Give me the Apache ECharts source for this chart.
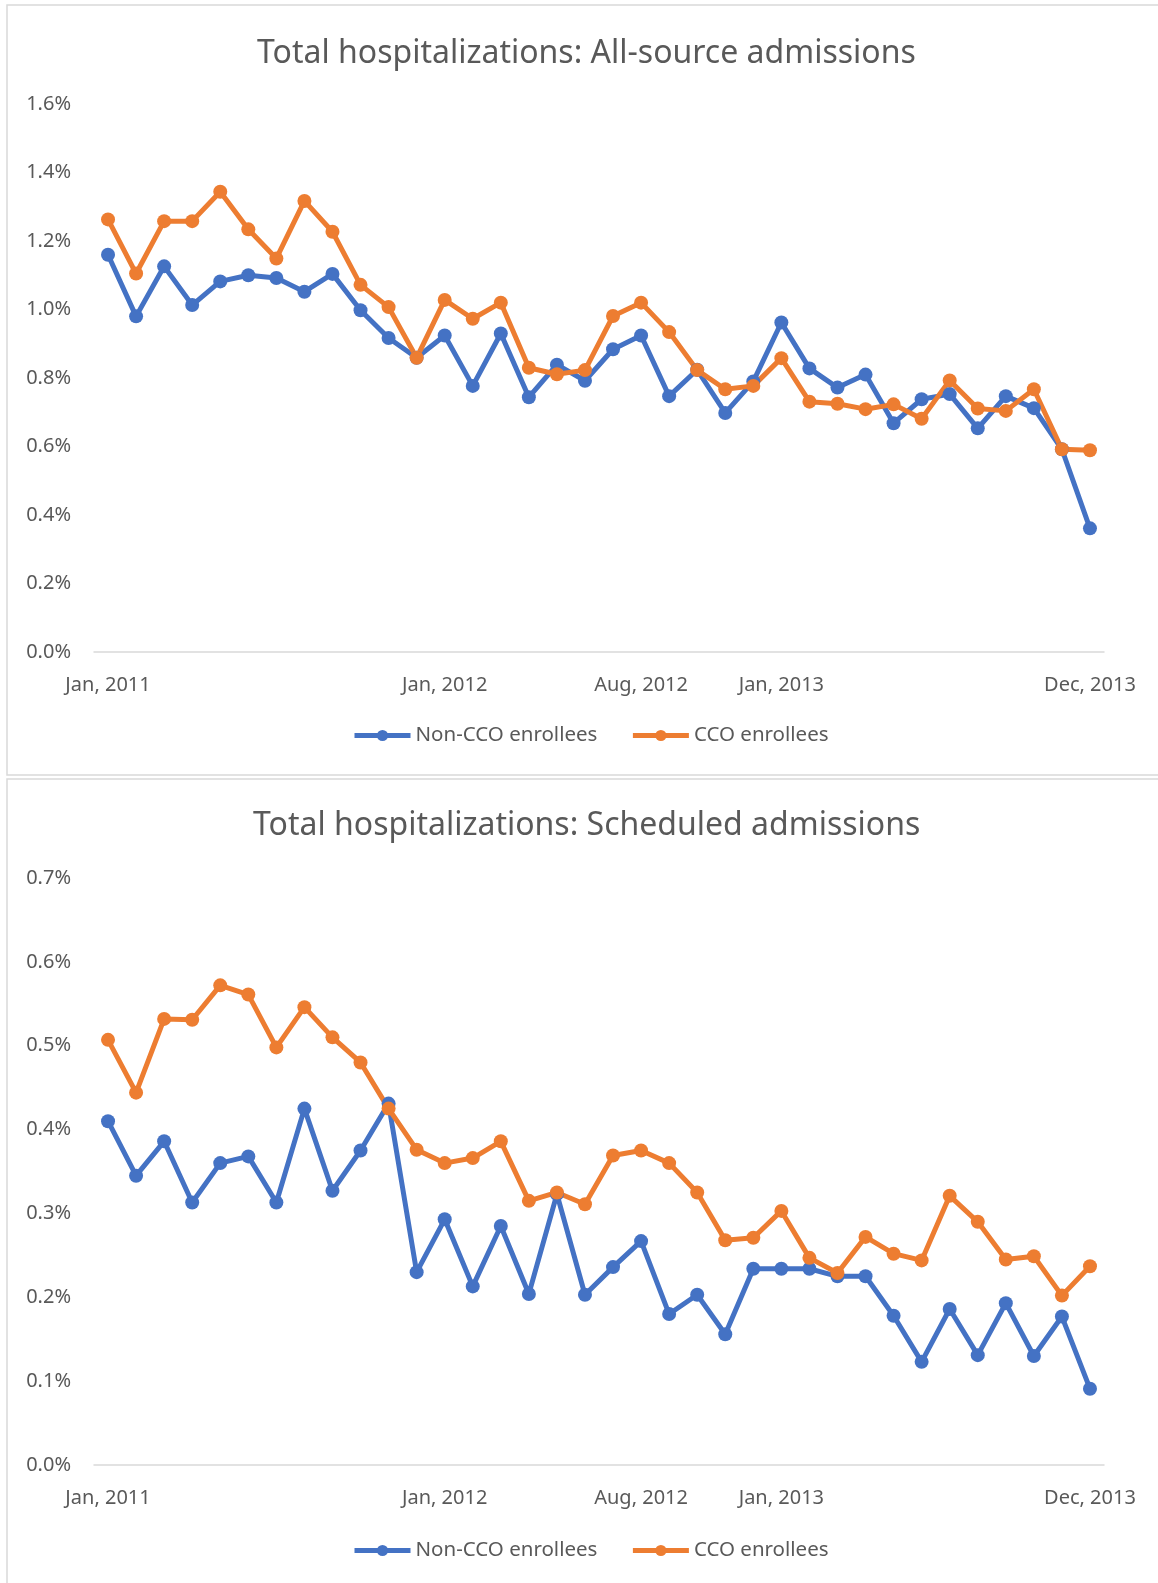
<!DOCTYPE html>
<html>
<head>
<meta charset="utf-8">
<title>Total hospitalizations</title>
<script src="https://cdn.jsdelivr.net/npm/echarts@6/dist/echarts.min.js"></script>
<style>
  html, body { margin: 0; padding: 0; background: #ffffff; }
  #main { width: 1158px; height: 1583px; }
</style>
</head>
<body>
<div id="main"></div>
<script>
// months Jan 2011 .. Dec 2013
const monthNames = ['Jan', 'Feb', 'Mar', 'Apr', 'May', 'Jun', 'Jul', 'Aug', 'Sep', 'Oct', 'Nov', 'Dec'];
const years = [2011, 2012, 2013];
const months = [];
years.forEach(y => monthNames.forEach(m => months.push(m + ', ' + y)));

// only these category labels are printed on the x axis
const shownLabels = ['Jan, 2011', 'Jan, 2012', 'Aug, 2012', 'Jan, 2013', 'Dec, 2013'];

const seriesNames = ['Non-CCO enrollees', 'CCO enrollees'];

// All-source admissions (%)
const nonCcoAll = [1.160, 0.980, 1.126, 1.013, 1.082, 1.100, 1.092, 1.052, 1.104, 0.998, 0.917, 0.859,
  0.924, 0.777, 0.930, 0.744, 0.839, 0.792, 0.884, 0.924, 0.747, 0.824, 0.698, 0.790,
  0.962, 0.828, 0.772, 0.810, 0.668, 0.738, 0.753, 0.653, 0.747, 0.712, 0.592, 0.361];
const ccoAll = [1.263, 1.105, 1.258, 1.258, 1.344, 1.234, 1.149, 1.317, 1.227, 1.072, 1.007, 0.859,
  1.028, 0.973, 1.020, 0.830, 0.811, 0.823, 0.981, 1.020, 0.934, 0.823, 0.767, 0.777,
  0.858, 0.731, 0.725, 0.709, 0.723, 0.681, 0.793, 0.711, 0.704, 0.767, 0.592, 0.589];

// Scheduled admissions (%)
const nonCcoSched = [0.410, 0.345, 0.386, 0.313, 0.360, 0.368, 0.313, 0.425, 0.327, 0.375, 0.431, 0.230,
  0.293, 0.213, 0.285, 0.204, 0.323, 0.203, 0.236, 0.267, 0.180, 0.203, 0.156, 0.234,
  0.234, 0.234, 0.225, 0.225, 0.178, 0.123, 0.186, 0.131, 0.193, 0.130, 0.177, 0.091];
const ccoSched = [0.507, 0.444, 0.532, 0.531, 0.572, 0.561, 0.498, 0.546, 0.510, 0.480, 0.425, 0.376,
  0.360, 0.366, 0.386, 0.315, 0.325, 0.311, 0.369, 0.375, 0.360, 0.325, 0.268, 0.271,
  0.303, 0.247, 0.229, 0.272, 0.252, 0.244, 0.321, 0.290, 0.245, 0.249, 0.202, 0.237];

const textColor = '#595959';
const font = '"Noto Sans", "Open Sans", sans-serif';
const colors = ['#4472C4', '#ED7D31'];

const xAxisFor = (gridIndex) => ({
  type: 'category',
  gridIndex: gridIndex,
  data: months,
  boundaryGap: true,
  axisTick: {show: false},
  axisLine: {lineStyle: {color: '#d9d9d9', width: 1.5}},
  axisLabel: {
    interval: (idx, val) => shownLabels.includes(val),
    color: textColor,
    fontFamily: font,
    fontSize: 20,
    margin: 23
  }
});

const yAxisFor = (gridIndex, max, interval) => ({
  type: 'value',
  gridIndex: gridIndex,
  min: 0,
  max: max,
  interval: interval,
  splitLine: {show: false},
  axisLine: {show: false},
  axisTick: {show: false},
  axisLabel: {
    color: textColor,
    fontFamily: font,
    fontSize: 20,
    margin: 23,
    formatter: v => v.toFixed(1) + '%'
  }
});

const lineSeries = (name, data, idx, color) => ({
  name: name,
  type: 'line',
  xAxisIndex: idx,
  yAxisIndex: idx,
  data: data,
  symbol: 'circle',
  symbolSize: 14,
  color: color,
  lineStyle: {width: 5, color: color},
  itemStyle: {color: color}
});

const legendFor = (top) => ({
  top: top,
  left: 347,
  itemWidth: 56,
  itemHeight: 14,
  itemGap: 33,
  data: seriesNames,
  lineStyle: {width: 5},
  textStyle: {color: textColor, fontFamily: font, fontSize: 20.5}
});

const titleFor = (text, left, top) => ({
  text: text,
  left: left,
  top: top,
  textStyle: {color: textColor, fontFamily: font, fontSize: 32, fontWeight: 'normal'}
});

const chart = echarts.init(document.getElementById('main'));
chart.setOption({
  animation: false,
  color: colors,
  title: [
    titleFor('Total hospitalizations: All-source admissions', 252, 33),
    titleFor('Total hospitalizations: Scheduled admissions', 248, 805)
  ],
  legend: [legendFor(720), legendFor(1535)],
  grid: [
    {left: 94, width: 1010, top: 104, height: 548},
    {left: 94, width: 1010, top: 878, height: 587}
  ],
  xAxis: [xAxisFor(0), xAxisFor(1)],
  yAxis: [yAxisFor(0, 1.6, 0.2), yAxisFor(1, 0.7, 0.1)],
  series: [
    lineSeries(seriesNames[0], nonCcoAll, 0, colors[0]),
    lineSeries(seriesNames[1], ccoAll, 0, colors[1]),
    lineSeries(seriesNames[0], nonCcoSched, 1, colors[0]),
    lineSeries(seriesNames[1], ccoSched, 1, colors[1])
  ],
  graphic: [
    {type: 'rect', silent: true, z: -1, shape: {x: 7, y: 5, width: 1200, height: 770},
      style: {fill: 'none', stroke: '#d9d9d9', lineWidth: 1.5}},
    {type: 'rect', silent: true, z: -1, shape: {x: 7, y: 779, width: 1200, height: 900},
      style: {fill: 'none', stroke: '#d9d9d9', lineWidth: 1.5}}
  ]
});
</script>
</body>
</html>
